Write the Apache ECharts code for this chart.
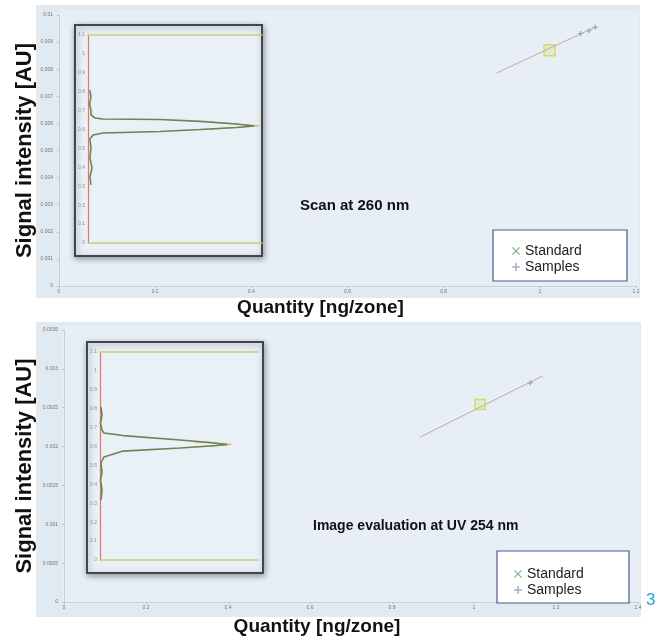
<!DOCTYPE html>
<html>
<head>
<meta charset="utf-8">
<script src="https://cdn.jsdelivr.net/npm/echarts@6/dist/echarts.min.js"></script>
<style>
  html, body { margin: 0; padding: 0; background: #fff; }
  #chart { width: 665px; height: 639px; }
</style>
</head>
<body>
<div id="chart"></div>
<script>
// upper panel: scan at 260 nm
var scanFit = [[0.91, 0.00786], [1.115, 0.00955]];
var scanStandard = [[1.02, 0.0087]];
var scanSamples = [[1.085, 0.00932], [1.102, 0.00942], [1.115, 0.00955]];
// lower panel: image evaluation at UV 254 nm
var imgFit = [[0.868, 0.00212], [1.168, 0.00291]];
var imgStandard = [[1.015, 0.00254]];
var imgSamples = [[1.137, 0.00282]];

// inset densitograms [signal, position]
var scanTrace = [[0.011, 0.809], [0.017, 0.772], [0.009, 0.735], [0.017, 0.703], [0.017, 0.677],
  [0.040, 0.661], [0.086, 0.656], [0.414, 0.653], [0.644, 0.643], [0.856, 0.629], [0.954, 0.619],
  [0.856, 0.611], [0.644, 0.600], [0.414, 0.590], [0.086, 0.582], [0.029, 0.571], [0.011, 0.550],
  [0.017, 0.502], [0.011, 0.450], [0.023, 0.397], [0.011, 0.349], [0.017, 0.307]];
var scanTraceRef = [[0.70, 0.640], [0.86, 0.628], [0.985, 0.620], [0.86, 0.612], [0.70, 0.602]];
var imgTrace = [[0.006, 0.809], [0.013, 0.767], [0.003, 0.724], [0.013, 0.687], [0.025, 0.672],
  [0.146, 0.658], [0.506, 0.635], [0.696, 0.621], [0.804, 0.611], [0.696, 0.603], [0.506, 0.592],
  [0.146, 0.576], [0.025, 0.545], [0.006, 0.513], [0.013, 0.465], [0.003, 0.423], [0.013, 0.370],
  [0.006, 0.317]];
var imgTraceRef = [[0.60, 0.625], [0.74, 0.617], [0.83, 0.611], [0.74, 0.605], [0.60, 0.598]];

var font = "'Liberation Sans', Arial, sans-serif";
var xSym = 'path://M0,1L1,0L5,4L9,0L10,1L6,5L10,9L9,10L5,6L1,10L0,9L4,5Z';
var plusSym = 'path://M4,0H6V4H10V6H6V10H4V6H0V4H4Z';

var chart = echarts.init(document.getElementById('chart'));

function mainX(grid, max, shift) {
  return {
    type: 'value', gridIndex: grid, min: 0, max: max, interval: 0.2,
    name: 'Quantity [ng/zone]', nameLocation: 'middle', nameGap: grid === 0 ? 12 : 15,
    nameMoveOverlap: false,
    nameTextStyle: { fontFamily: font, fontWeight: 'bold', fontSize: 19, color: '#111', padding: [0, shift, 0, 0] },
    axisLine: { lineStyle: { color: '#c6d0d9' } },
    axisTick: { length: 2, lineStyle: { color: '#b9c3cc' } },
    axisLabel: { fontSize: 5, color: '#777', margin: 3, fontFamily: font },
    splitLine: { show: false }
  };
}
function mainY(grid, max, step, gap) {
  return {
    type: 'value', gridIndex: grid, min: 0, max: max, interval: step,
    name: 'Signal intensity [AU]', nameLocation: 'middle', nameGap: gap, nameMoveOverlap: false,
    nameTextStyle: { fontFamily: font, fontWeight: 'bold', fontSize: 22, color: '#111' },
    axisLine: { show: true, lineStyle: { color: '#c6d0d9' } },
    axisTick: { show: true, length: 2, lineStyle: { color: '#b9c3cc' } },
    axisLabel: { fontSize: 5, color: '#777', margin: 6, fontFamily: font },
    splitLine: { show: false }
  };
}
function insetX(grid, pos) {
  return {
    type: 'value', gridIndex: grid, min: 0, max: 1, position: pos, z: 10,
    axisLine: { lineStyle: { color: '#c4cf78', width: 1.5 } },
    axisTick: { show: false }, axisLabel: { show: false }, splitLine: { show: false }
  };
}
function insetY(grid) {
  return {
    type: 'value', gridIndex: grid, min: 0, max: 1.1, interval: 0.1, z: 10,
    axisLine: { show: true, lineStyle: { color: '#ea6f72', width: 1.2 } },
    axisTick: { show: false },
    axisLabel: { fontSize: 5, color: '#8a8f94', margin: 3, fontFamily: font },
    splitLine: { show: false }
  };
}
function trace(xi, yi, data, color, w) {
  return {
    type: 'line', xAxisIndex: xi, yAxisIndex: yi, data: data, showSymbol: false, z: 10,
    lineStyle: { color: color, width: w }, silent: true
  };
}
function legendFor(left, top) {
  return {
    left: left, top: top, orient: 'vertical', itemWidth: 8, itemHeight: 8, itemGap: 2, z: 20,
    textStyle: { fontFamily: font, fontSize: 14, color: '#222' },
    data: [
      { name: 'Standard', icon: xSym, itemStyle: { color: '#5f9f5f', borderColor: '#5f9f5f', borderWidth: 0 } },
      { name: 'Samples', icon: plusSym, itemStyle: { color: '#86a0bb', borderColor: '#86a0bb', borderWidth: 0 } }
    ]
  };
}

var option = {
  animation: false,
  backgroundColor: '#fff',
  grid: [
    { left: 59, top: 15, width: 577, height: 271 },
    { left: 64, top: 330, width: 574, height: 272 },
    { left: 88, top: 35, width: 174, height: 208 },
    { left: 100, top: 352, width: 158, height: 208 }
  ],
  xAxis: [
    mainX(0, 1.2, 54), mainX(1, 1.4, 68),
    insetX(2, 'bottom'), insetX(2, 'top'),
    insetX(3, 'bottom'), insetX(3, 'top')
  ],
  yAxis: [
    mainY(0, 0.01, 0.001, 23), mainY(1, 0.0035, 0.0005, 28),
    insetY(2), insetY(3)
  ],
  legend: [legendFor(507, 239), legendFor(509, 562)],
  graphic: [
    { type: 'rect', shape: { x: 36, y: 5, width: 604, height: 293 }, style: { fill: '#e1e9f1' }, z: -2 },
    { type: 'rect', shape: { x: 59, y: 10, width: 580, height: 278 }, style: { fill: '#e7eef5' }, z: -1 },
    { type: 'rect', shape: { x: 36, y: 322, width: 605, height: 295 }, style: { fill: '#e1e9f1' }, z: -2 },
    { type: 'rect', shape: { x: 63, y: 326, width: 577, height: 278 }, style: { fill: '#e7eef5' }, z: -1 },
    { type: 'rect', shape: { x: 75, y: 25, width: 187, height: 231 },
      style: { fill: '#e9f0f6', stroke: '#3f464c', lineWidth: 2, shadowBlur: 6, shadowColor: 'rgba(0,0,0,0.35)', shadowOffsetX: 1, shadowOffsetY: 2 }, z: 5 },
    { type: 'rect', shape: { x: 87, y: 342, width: 176, height: 231 },
      style: { fill: '#e9f0f6', stroke: '#3f464c', lineWidth: 2, shadowBlur: 6, shadowColor: 'rgba(0,0,0,0.35)', shadowOffsetX: 1, shadowOffsetY: 2 }, z: 5 },
    { type: 'rect', shape: { x: 493, y: 230, width: 134, height: 51 }, style: { fill: '#fff', stroke: '#4b5690', lineWidth: 1.2 }, z: 5 },
    { type: 'rect', shape: { x: 497, y: 551, width: 132, height: 52 }, style: { fill: '#fff', stroke: '#4b5690', lineWidth: 1.2 }, z: 5 },
    { type: 'text', left: 300, top: 198, style: { text: 'Scan at 260 nm', font: 'bold 15px ' + font, fill: '#111' }, z: 6 },
    { type: 'text', left: 313, top: 519, style: { text: 'Image evaluation at UV 254 nm', font: 'bold 14px ' + font, fill: '#111' }, z: 6 },
    { type: 'text', left: 646, top: 592, style: { text: '3', font: '17px ' + font, fill: '#27a3dd' }, z: 6 }
  ],
  series: [
    { type: 'line', name: 'fit', xAxisIndex: 0, yAxisIndex: 0, data: scanFit, showSymbol: false,
      lineStyle: { color: '#c4a6b0', width: 1 }, silent: true },
    { type: 'scatter', name: 'Standard', xAxisIndex: 0, yAxisIndex: 0, data: scanStandard, symbol: 'rect', symbolSize: 11,
      itemStyle: { color: 'rgba(214,228,110,0.35)', borderColor: '#c9da4e', borderWidth: 1.5 } },
    { type: 'scatter', name: 'Samples', xAxisIndex: 0, yAxisIndex: 0, data: scanSamples, symbol: plusSym, symbolSize: 5,
      itemStyle: { color: '#5a7fae' } },
    { type: 'line', name: 'fit', xAxisIndex: 1, yAxisIndex: 1, data: imgFit, showSymbol: false,
      lineStyle: { color: '#bfaaa8', width: 1 }, silent: true },
    { type: 'scatter', name: 'Standard', xAxisIndex: 1, yAxisIndex: 1, data: imgStandard, symbol: 'rect', symbolSize: 10,
      itemStyle: { color: 'rgba(214,228,110,0.35)', borderColor: '#c9da4e', borderWidth: 1.5 } },
    { type: 'scatter', name: 'Samples', xAxisIndex: 1, yAxisIndex: 1, data: imgSamples, symbol: plusSym, symbolSize: 5,
      itemStyle: { color: '#4d7fb5' } },
    trace(2, 2, scanTraceRef, '#e3a45a', 1.2),
    trace(2, 2, scanTrace, '#6b8654', 1.6),
    trace(4, 3, imgTraceRef, '#e3a45a', 1.2),
    trace(4, 3, imgTrace, '#6b8654', 1.6)
  ]
};
chart.setOption(option);
</script>
</body>
</html>
